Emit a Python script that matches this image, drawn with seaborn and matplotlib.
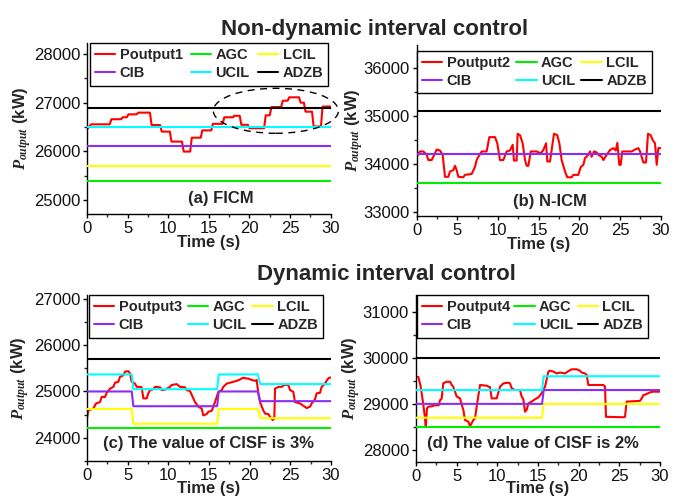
import matplotlib
matplotlib.use('Agg')
import matplotlib.pyplot as plt
import seaborn as sns
import pandas as pd
from matplotlib.patches import Ellipse
from matplotlib.ticker import MultipleLocator

# ---------------- data ----------------
poutput1 = [(0, 26450), (0.5, 26555), (2.8, 26555), (3.0, 26660), (4.2, 26660), (4.4, 26700),
            (4.9, 26700), (5.1, 26760), (6.1, 26760), (6.3, 26795), (7.75, 26795), (7.95, 26540),
            (9.0, 26540), (9.2, 26405), (10.2, 26405), (10.4, 26200), (11.7, 26200), (11.9, 25995),
            (12.7, 25995), (12.9, 26280), (14.0, 26280), (14.2, 26430), (15.3, 26430), (15.5, 26565),
            (16.7, 26565), (16.9, 26700), (18.0, 26700), (18.1, 26730), (18.8, 26730), (19.0, 26545),
            (19.8, 26545), (20.0, 26475), (21.8, 26475), (22.0, 26740), (22.5, 26740), (22.7, 26910),
            (23.9, 26910), (24.1, 27040), (24.7, 27040), (24.9, 27110), (26.1, 27110), (26.3, 27000),
            (26.7, 27000), (26.9, 26815), (27.7, 26815), (27.9, 26510), (28.8, 26510), (29.0, 26920),
            (30, 26920)]
levels_a = {'AGC': 25400, 'LCIL': 25700, 'CIB': 26100, 'UCIL': 26500, 'ADZB': 26900}

poutput2 = [(0, 34150), (0.41, 34260), (0.82, 34260), (1.23, 34190), (1.43, 34080), (1.84, 34080),
            (2.25, 34220), (2.46, 34300), (2.86, 34280), (3.19, 34190), (3.48, 33730), (3.89, 33730),
            (4.09, 33840), (4.50, 33870), (4.71, 33960), (4.91, 33870), (5.12, 33730), (5.73, 33720),
            (5.94, 33770), (6.76, 33790), (7.17, 33940), (7.37, 34080), (7.58, 34150), (7.99, 34260),
            (8.60, 34260), (8.93, 34560), (9.63, 34560), (9.91, 34430), (10.24, 34080), (10.65, 34080),
            (11.06, 34260), (11.47, 34280), (11.80, 34400), (11.96, 34070), (12.29, 34070), (12.41, 34630),
            (12.70, 34600), (13.03, 34430), (13.32, 34080), (13.52, 33960), (13.73, 33960), (14.02, 34260),
            (14.75, 34260), (15.25, 34220), (15.57, 34290), (15.90, 34430), (16.06, 34050), (16.39, 34050),
            (16.88, 34630), (17.29, 34600), (17.54, 34430), (17.82, 34080), (18.24, 33840), (18.52, 33720),
            (19.05, 33720), (19.26, 33770), (19.87, 33770), (20.16, 33930), (20.49, 33980), (20.69, 34120),
            (21.10, 34190), (21.31, 34260), (21.51, 34150), (21.80, 34260), (22.13, 34240), (22.33, 34190),
            (22.74, 34150), (22.95, 34080), (23.36, 34190), (23.77, 34290), (24.18, 34330), (24.47, 34280),
            (24.67, 34440), (24.91, 33980), (25.08, 33980), (25.28, 34260), (25.82, 34260), (26.43, 34260),
            (26.84, 34300), (27.25, 34330), (27.46, 34260), (27.87, 34030), (28.19, 34030), (28.44, 34630),
            (28.77, 34600), (29.01, 34500), (29.30, 34430), (29.51, 33980), (29.71, 34330), (30.0, 34330)]
levels_b = {'AGC': 33600, 'CIB': 34200, 'ADZB': 35100}

poutput3 = [(0, 24410), (0.16, 24590), (0.78, 24630), (1.11, 24740), (1.6, 24770), (1.8, 24880),
            (2.21, 24880), (2.42, 24970), (2.83, 25060), (3.24, 25100), (3.44, 25190), (3.85, 25210),
            (4.06, 25320), (4.47, 25350), (4.67, 25430), (5.08, 25440), (5.29, 25390), (5.49, 25210),
            (5.9, 25170), (6.11, 25100), (6.52, 25100), (6.72, 25090), (6.93, 24850), (7.34, 24850),
            (7.54, 24960), (7.75, 25030), (8.16, 25050), (8.36, 25100), (8.98, 25090), (9.18, 25030),
            (9.59, 25040), (9.8, 25060), (10.21, 25100), (10.41, 25140), (11.03, 25160), (11.43, 25100),
            (12.05, 25090), (12.25, 25030), (12.66, 25010), (13.07, 24850), (13.28, 24770), (13.69, 24670),
            (14.1, 24630), (14.3, 24480), (14.71, 24510), (14.92, 24560), (15.33, 24580), (15.53, 24670),
            (15.74, 24770), (15.94, 24880), (16.15, 24990), (16.56, 25030), (16.76, 25100), (17.17, 25170),
            (17.58, 25190), (17.99, 25210), (18.4, 25230), (18.81, 25260), (19.22, 25300), (19.63, 25280),
            (19.84, 25280), (20.25, 25250), (20.66, 25230), (20.86, 25250), (21.07, 24960), (21.27, 24770),
            (21.68, 24590), (21.89, 24520), (22.3, 24510), (22.5, 24450), (22.83, 24380), (23.03, 24410),
            (23.12, 25060), (23.53, 25100), (23.94, 25100), (24.22, 25140), (24.76, 25140), (24.96, 25030),
            (25.37, 24990), (25.57, 24770), (26.19, 24740), (26.6, 24690), (27.01, 24640), (27.42, 24670),
            (27.62, 24740), (28.03, 24830), (28.24, 24960), (28.65, 24970), (28.85, 25100), (29.26, 25170),
            (29.55, 25260), (29.8, 25300), (30, 25300)]
time_c = [0, 5.5, 5.7, 16.0, 16.2, 21.0, 21.3, 30]
ucil_c = [25370, 25370, 25050, 25050, 25370, 25370, 25160, 25160]
cib_c = [25000, 25000, 24680, 24680, 25000, 25000, 24790, 24790]
lcil_c = [24620, 24620, 24300, 24300, 24620, 24620, 24420, 24420]
agc_c, adzb_c = 24200, 25700

poutput4 = [(0, 29600), (0.3, 29580), (0.57, 29380), (0.85, 29050), (1.1, 28700), (1.2, 28500),
            (1.35, 28900), (1.52, 28940), (2.0, 28950), (2.3, 28970), (2.8, 28970), (2.95, 29080),
            (3.15, 29110), (3.36, 29450), (3.77, 29480), (4.2, 29480), (4.39, 29410), (4.59, 29370),
            (4.80, 29265), (5.0, 29160), (5.41, 29120), (5.62, 28980), (5.82, 28870), (6.02, 28650),
            (6.43, 28615), (6.64, 28520), (6.84, 28580), (7.05, 28650), (7.25, 28680), (7.46, 28940),
            (7.87, 29410), (8.69, 29395), (9.1, 29360), (9.3, 29120), (9.92, 29120), (10.33, 29370),
            (10.74, 29445), (11.35, 29460), (11.56, 29445), (11.76, 29340), (12.17, 29300), (12.79, 29300),
            (12.99, 29160), (13.2, 29100), (13.4, 28830), (13.61, 28870), (13.81, 29010), (14.22, 29050),
            (14.63, 29100), (15.04, 29140), (15.45, 29230), (15.66, 29320), (15.86, 29370), (16.27, 29700),
            (16.48, 29720), (16.89, 29700), (17.3, 29660), (17.71, 29680), (18.32, 29660), (18.73, 29710),
            (19.14, 29750), (19.76, 29750), (20.16, 29720), (20.37, 29680), (20.78, 29660), (20.98, 29630),
            (21.19, 29410), (23.03, 29410), (23.24, 29375), (23.36, 28720), (25.49, 28710), (25.7, 28720),
            (25.9, 29050), (27.54, 29065), (27.75, 29120), (27.95, 29190), (28.36, 29215), (28.77, 29250),
            (29.18, 29265), (30, 29265)]
time_d = [0, 15.5, 15.7, 30]
ucil_d = [29300, 29300, 29600, 29600]
cib_d = [29000, 29000, 29300, 29300]
lcil_d = [28700, 28700, 29000, 29000]
agc_d, adzb_d = 28500, 30000

titles = ['Non-dynamic interval control', 'Dynamic interval control']
panel_labels = ['(a) FICM', '(b) N-ICM', '(c) The value of CISF is 3%', '(d) The value of CISF is 2%']
ylims = [(24712, 28226), (32916, 36487), (23485, 27093), (27746, 31362)]

# ---------------- style ----------------
sns.set_theme(style='ticks')
plt.rcParams['font.family'] = ['Liberation Sans', 'DejaVu Sans']
plt.rcParams['mathtext.fontset'] = 'custom'
plt.rcParams['mathtext.it'] = 'Liberation Serif:bold:italic'
plt.rcParams['mathtext.rm'] = 'Liberation Sans:bold'
plt.rcParams['mathtext.bf'] = 'Liberation Sans:bold'

COL = {'P': '#ff0000', 'AGC': '#00ee00', 'LCIL': '#ffff00', 'CIB': '#8a2ef5',
       'UCIL': '#00ffff', 'ADZB': '#000000'}
LW = 1.5

fig = plt.figure(figsize=(6.86, 4.98), dpi=100)
W, H = 686, 498


def add_ax(l, r, t, b):
    return fig.add_axes([l / W, 1 - b / H, (r - l) / W, (b - t) / H])


axes = [add_ax(87, 330.7, 43, 214), add_ax(416.7, 660.7, 45, 215.7),
        add_ax(87, 331, 295, 461.3), add_ax(416, 660, 295, 461.7)]


def line(ax, x, y, key, label, z=3):
    sns.lineplot(x=x, y=y, ax=ax, color=COL[key], lw=LW, label=label,
                 estimator=None, sort=False, zorder=z, legend=False)
    return ax.lines[-1]


def ref_const(ax, v, key):
    return line(ax, [0, 30], [v, v], key, key)


def empty(ax, key):
    h, = ax.plot([], [], color=COL[key], lw=LW, label=key)
    return h


def finish(ax, idx, handles, legbox, ylab_x, xlab_y, txt_xy):
    ax.set_xlim(0, 30)
    ax.set_ylim(*ylims[idx])
    ax.xaxis.set_major_locator(MultipleLocator(5))
    ax.xaxis.set_minor_locator(MultipleLocator(2.5))
    ax.yaxis.set_major_locator(MultipleLocator(1000))
    ax.yaxis.set_minor_locator(MultipleLocator(500))
    for s in ['top', 'right']:
        ax.spines[s].set_visible(False)
    for s in ['left', 'bottom']:
        ax.spines[s].set_linewidth(1.0)
        ax.spines[s].set_color('black')
    ax.tick_params(which='major', direction='out', length=3, width=1, labelsize=12,
                   pad=2, colors='black', left=True, bottom=True)
    ax.tick_params(which='minor', direction='out', length=2, width=1, left=True, bottom=True)
    for lab in ax.get_xticklabels() + ax.get_yticklabels():
        lab.set_color('#111111')
    ax.set_ylabel(r'$P_{output}$ (kW)', fontsize=12, fontweight='bold')
    ax.yaxis.set_label_coords(ylab_x, 0.5)
    ax.yaxis.label.set_va('center')
    ax.set_xlabel('Time (s)', fontsize=12, fontweight='bold')
    ax.xaxis.set_label_coords(0.5, xlab_y)
    ax.xaxis.label.set_va('center')
    ax.text(txt_xy[0], txt_xy[1], panel_labels[idx], transform=ax.transAxes,
            ha='center', va='center', fontsize=12, fontweight='bold')
    x0, ytop, w = legbox
    leg = ax.legend(handles, [h.get_label() for h in handles], ncol=3, loc='upper left',
                    bbox_to_anchor=(x0, ytop - 0.4, w, 0.4), mode='expand', borderaxespad=0,
                    prop={'weight': 'bold', 'size': 10.5}, frameon=True, fancybox=False,
                    framealpha=1, edgecolor='black', borderpad=0.35, labelspacing=0.3,
                    handlelength=1.4, handletextpad=0.3, columnspacing=0.5)
    leg.get_frame().set_linewidth(1.0)


# (a)
ax = axes[0]
df = pd.DataFrame(poutput1, columns=['t', 'p'])
hp = line(ax, df['t'], df['p'], 'P', 'Poutput1', z=2)
hs = {k: ref_const(ax, v, k) for k, v in levels_a.items()}
ax.add_patch(Ellipse((23.25, 26833), 15.4, 925, fill=False, ls=(0, (5, 4)), lw=1.0,
                     ec='black', clip_on=False, zorder=4))
finish(ax, 0, [hp, hs['CIB'], hs['AGC'], hs['UCIL'], hs['LCIL'], hs['ADZB']],
       (0.012, 1.0, 0.978), -0.267, -0.168, (0.55, 0.088))

# (b)
ax = axes[1]
df = pd.DataFrame(poutput2, columns=['t', 'p'])
hp = line(ax, df['t'], df['p'], 'P', 'Poutput2', z=2)
hs = {k: ref_const(ax, v, k) for k, v in levels_b.items()}
hs['LCIL'] = empty(ax, 'LCIL')
hs['UCIL'] = empty(ax, 'UCIL')
finish(ax, 1, [hp, hs['CIB'], hs['AGC'], hs['UCIL'], hs['LCIL'], hs['ADZB']],
       (0.001, 0.967, 0.963), -0.255, -0.168, (0.546, 0.086))

# (c)
ax = axes[2]
df = pd.DataFrame(poutput3, columns=['t', 'p'])
hp = line(ax, df['t'], df['p'], 'P', 'Poutput3', z=2)
hs = {'AGC': ref_const(ax, agc_c, 'AGC'),
      'LCIL': line(ax, time_c, lcil_c, 'LCIL', 'LCIL'),
      'CIB': line(ax, time_c, cib_c, 'CIB', 'CIB'),
      'UCIL': line(ax, time_c, ucil_c, 'UCIL', 'UCIL'),
      'ADZB': ref_const(ax, adzb_c, 'ADZB')}
finish(ax, 2, [hp, hs['CIB'], hs['AGC'], hs['UCIL'], hs['LCIL'], hs['ADZB']],
       (0.008, 1.0, 0.959), -0.273, -0.162, (0.496, 0.11))

# (d)
ax = axes[3]
df = pd.DataFrame(poutput4, columns=['t', 'p'])
hp = line(ax, df['t'], df['p'], 'P', 'Poutput4', z=2)
hs = {'AGC': ref_const(ax, agc_d, 'AGC'),
      'LCIL': line(ax, time_d, lcil_d, 'LCIL', 'LCIL'),
      'CIB': line(ax, time_d, cib_d, 'CIB', 'CIB'),
      'UCIL': line(ax, time_d, ucil_d, 'UCIL', 'UCIL'),
      'ADZB': ref_const(ax, adzb_d, 'ADZB')}
finish(ax, 3, [hp, hs['CIB'], hs['AGC'], hs['UCIL'], hs['LCIL'], hs['ADZB']],
       (0.004, 1.0, 0.947), -0.264, -0.162, (0.478, 0.11))

fig.text(375 / W, 1 - 35 / H, titles[0], ha='center', va='baseline', fontsize=16, fontweight='bold')
fig.text(386.5 / W, 1 - 280 / H, titles[1], ha='center', va='baseline', fontsize=16, fontweight='bold')

fig.savefig('out.png', dpi=100)
